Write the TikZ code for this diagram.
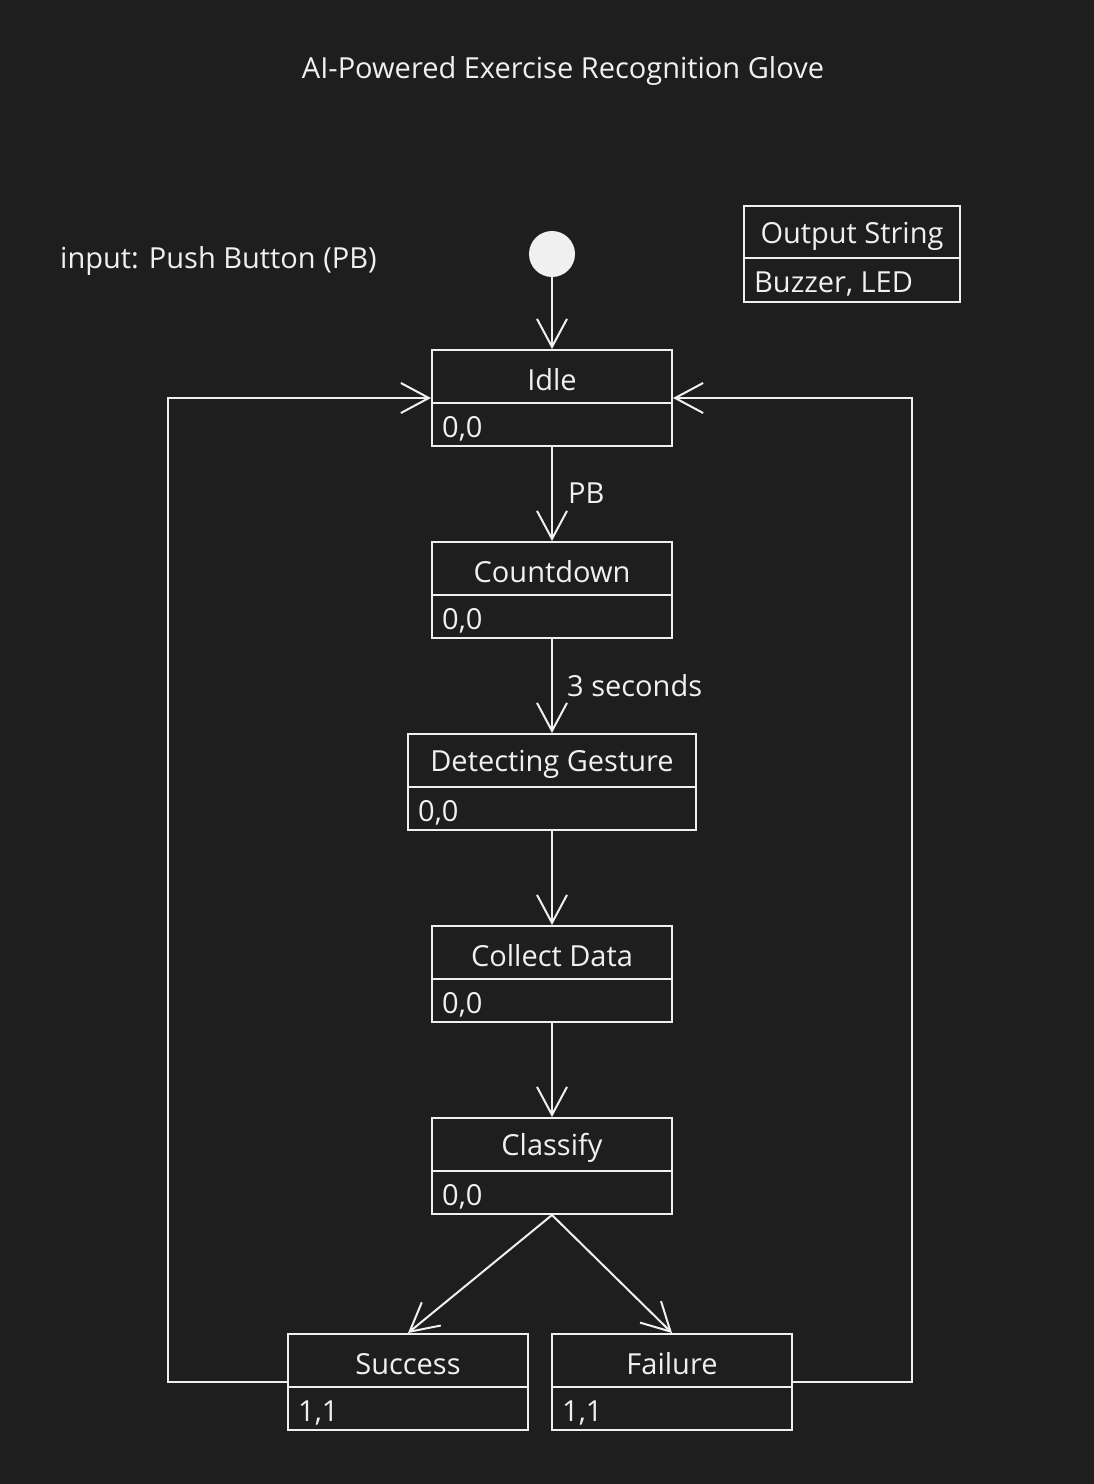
\documentclass[tikz,border=0pt]{standalone}
\usepackage{fontspec}
\setmainfont{Open Sans}
\usetikzlibrary{arrows.meta}
\definecolor{bg}{HTML}{1E1E1E}
\definecolor{fg}{HTML}{F0F0F0}
\tikzset{
  statebox/.style={draw=fg, line width=2pt, minimum width=#1, minimum height=96pt, inner sep=0pt},
  statebox/.default=240pt,
  stitle/.style={text=fg, font=\fontsize{29}{33}\selectfont, inner sep=0pt},
  svalue/.style={text=fg, font=\fontsize{29}{33}\selectfont, inner sep=0pt, anchor=west},
  conn/.style={draw=fg, line width=2pt, -{Straight Barb[length=28pt,width=30pt,line width=2pt]}},
  lbl/.style={text=fg, font=\fontsize{29}{33}\selectfont, inner sep=0pt, anchor=west},
}
\newcommand\mystate[6]{%
  \node[statebox=#4] (#1) at (#2,#3) {};
  \draw[fg, line width=2pt] ([yshift=-5pt]#1.west) -- ([yshift=-5pt]#1.east);
  \node[stitle] (#1-t) at ([yshift=18pt]#1.center) {#5};
  \node[svalue] (#1-v) at ([xshift=11pt,yshift=-31pt]#1.west) {#6};
}
\begin{document}
\begin{tikzpicture}[x=1pt,y=-1pt]
\fill[bg] (0,0) rectangle (1094,1484);
\useasboundingbox (0,0) rectangle (1094,1484);

\node[text=fg, font=\fontsize{29}{33}\selectfont, inner sep=0pt] (title) at (563,71) {AI-Powered Exercise Recognition Glove};
\node[lbl] (input) at (60,261) {input: Push Button (PB)};

\node[circle, fill=fg, minimum size=46pt, inner sep=0pt] (init) at (552,254) {};

% legend
\node[statebox=216pt] (legend) at (852,254) {};
\draw[fg, line width=2pt] ([yshift=-4pt]legend.west) -- ([yshift=-4pt]legend.east);
\node[stitle] (legend-t) at ([yshift=18pt]legend.center) {Output String};
\node[svalue] (legend-v) at ([xshift=11pt,yshift=-30pt]legend.west) {Buzzer, LED};

\mystate{idle}{552}{398}{240pt}{Idle}{0,0}
\mystate{cd}{552}{590}{240pt}{Countdown}{0,0}
\mystate{det}{552}{782}{288pt}{Detecting Gesture}{0,0}
\mystate{col}{552}{974}{240pt}{Collect Data}{0,0}
\mystate{cls}{552}{1166}{240pt}{Classify}{0,0}
\mystate{succ}{408}{1382}{240pt}{Success}{1,1}
\mystate{fail}{672}{1382}{240pt}{Failure}{1,1}

\draw[conn] (init) -- (idle.north);
\draw[conn] (idle.south) -- (cd.north);
\node[lbl] (pb) at (568,493) {PB};
\draw[conn] (cd.south) -- (det.north);
\node[lbl] (secs) at (567,686) {3 seconds};
\draw[conn] (det.south) -- (col.north);
\draw[conn] (col.south) -- (cls.north);
\draw[conn] (cls.south) -- (succ.north);
\draw[conn] (cls.south) -- (fail.north);

\coordinate (lcorner) at (168,1382);
\coordinate (rcorner) at (912,1382);
\draw[conn] (succ.west) -- (lcorner) |- (idle.west);
\draw[conn] (fail.east) -- (rcorner) |- (idle.east);
\end{tikzpicture}
\end{document}
